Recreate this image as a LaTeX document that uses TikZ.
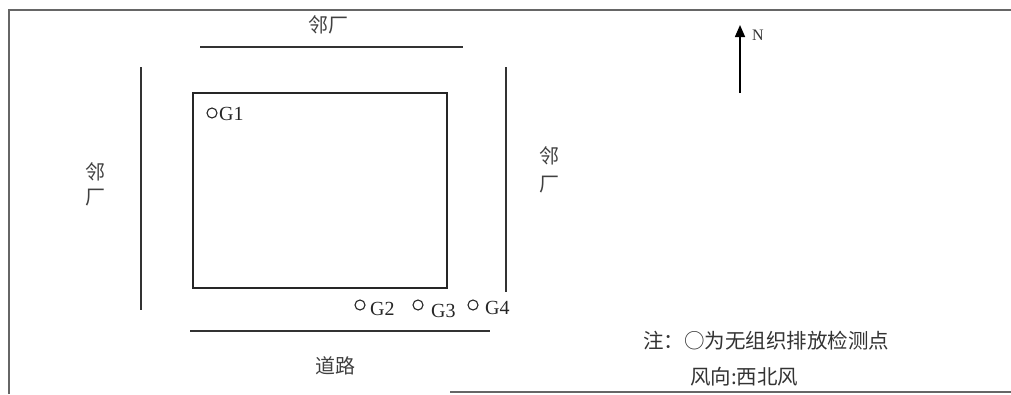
\documentclass[tikz,border=0pt]{standalone}
\usepackage{fontspec}
\setmainfont{Liberation Serif}
\newfontfamily\cjk{Noto Sans CJK SC}
\usetikzlibrary{arrows.meta}
\begin{document}
\begin{tikzpicture}[x=1pt,y=-1pt,
  wall/.style={draw=black!80,line width=1.6pt},
  frameline/.style={draw=black!60,line width=1.4pt},
  cjklabel/.style={font=\cjk\fontsize{20}{20}\selectfont,text=black!75,inner sep=0pt},
  glabel/.style={font=\fontsize{20}{20}\selectfont,text=black!85,inner sep=0pt,anchor=west},
  pt/.style={circle,draw=black!85,line width=1.1pt,minimum size=10pt,inner sep=0pt},
  notetext/.style={font=\cjk\fontsize{20.5}{20.5}\selectfont,text=black!80,inner sep=0pt,anchor=west}]
\useasboundingbox (0,0) rectangle (1011,394);
% frame
\draw[frameline] (9,394) -- (9,10) -- (1011,10);
\draw[frameline] (450,392) -- (1011,392);
% neighbouring plants and road lines
\coordinate (tl) at (200,47); \coordinate (tr) at (463,47);
\draw[wall] (tl) -- (tr);
\coordinate (ll1) at (141,67); \coordinate (ll2) at (141,310);
\draw[wall] (ll1) -- (ll2);
\coordinate (rl1) at (506,67); \coordinate (rl2) at (506,292);
\draw[wall] (rl1) -- (rl2);
\coordinate (bl1) at (190,331); \coordinate (bl2) at (490,331);
\draw[wall] (bl1) -- (bl2);
% plant
\node[draw=black!85,line width=1.6pt,minimum width=254pt,minimum height=195pt,inner sep=0pt] (plant) at (320,190.5) {};
% labels
\node[cjklabel] (top) at (328,25) {邻厂};
\node[cjklabel] (left1) at (95,172) {邻};
\node[cjklabel] (left2) at (95,198) {厂};
\node[cjklabel] (right1) at (549,156) {邻};
\node[cjklabel] (right2) at (549,185) {厂};
\node[cjklabel] (road) at (335,366) {道路};
% monitoring points
\node[pt] (g1) at (212,113) {};
\node[glabel] (g1t) at (219,114) {G1};
\node[pt] (g2) at (360,305) {};
\node[glabel] (g2t) at (370,309) {G2};
\node[pt] (g3) at (418,305) {};
\node[glabel] (g3t) at (431,311) {G3};
\node[pt] (g4) at (473,305) {};
\node[glabel] (g4t) at (485,308) {G4};
% north arrow
\coordinate (nb) at (740,93);
\node[font=\fontsize{16}{16}\selectfont,inner sep=0pt,text=black!80] (n) at (758,35) {N};
\coordinate (nt) at (740,25);
\draw[line width=1.5pt,-{Triangle[length=12pt,width=10pt]}] (nb) -- (nt);
% note
\node[notetext] (note1) at (643,341) {注：○为无组织排放检测点};
\node[notetext] (note2) at (690,377) {风向:西北风};
\end{tikzpicture}
\end{document}
